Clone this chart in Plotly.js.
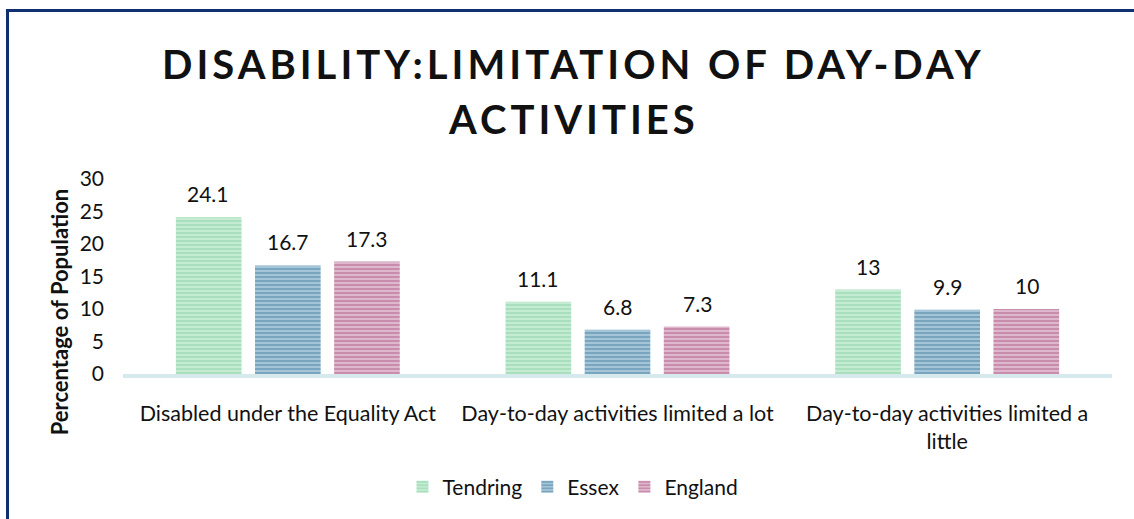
<!DOCTYPE html>
<html><head><meta charset="utf-8">
<script src="https://cdn.plot.ly/plotly-3.0.1.min.js"></script>
<style>
html,body{margin:0;padding:0;background:#fff;overflow:hidden;}
#frame{position:absolute;left:6px;top:9px;width:1300px;height:700px;border:3px solid #10306f;box-sizing:border-box;}
#chart{position:absolute;left:0;top:0;width:1134px;height:519px;}
.annotation[data-index="0"] text, .annotation[data-index="1"] text{letter-spacing:4px;}
</style></head>
<body>
<div id="frame"></div>
<div id="chart"></div>
<script>
const categories = ["Disabled under the Equality Act", "Day-to-day activities limited a lot", "Day-to-day activities limited a<br>little"];
const seriesNames = ["Tendring", "Essex", "England"];
const tendring = [24.1, 11.1, 13];
const essex = [16.7, 6.8, 9.9];
const england = [17.3, 7.3, 10];
const yTicks = [0, 5, 10, 15, 20, 25, 30];
const titleLines = ["DISABILITY:LIMITATION OF DAY-DAY", "ACTIVITIES"];
const yTitle = "Percentage of Population";

const values = [tendring, essex, england];
const fg = ["#8cd2a6", "#4a82a2", "#ae5d89"];
const bg = ["#c6edd5", "#a9c8da", "#e2bcd0"];
const font = "Lato, 'Open Sans', sans-serif";

const traces = values.map((v, i) => ({
  type: "bar", name: seriesNames[i], x: categories, y: v,
  marker: {color: bg[i], line: {width: 0}, pattern: {shape: "-", fgcolor: fg[i], bgcolor: bg[i], size: 4, solidity: 0.55, fillmode: "overlay"}},
  hoverinfo: "none"
}));

const annotations = [
  {text: "<b>" + titleLines[0] + "</b>", xref: "paper", yref: "paper", x: 0.456, y: 1.59, xanchor: "center", yanchor: "middle",
   showarrow: false, font: {family: font, size: 40, color: "#111"}},
  {text: "<b>" + titleLines[1] + "</b>", xref: "paper", yref: "paper", x: 0.456, y: 1.307, xanchor: "center", yanchor: "middle",
   showarrow: false, font: {family: font, size: 40, color: "#111"}},
  {text: "<b>" + yTitle + "</b>", xref: "paper", yref: "paper", x: -0.064, y: 0.32,
   xanchor: "center", yanchor: "middle", textangle: -90, showarrow: false, font: {family: font, size: 22, color: "#111"}}
];
const shifts = [-79.5, 0, 79.5];
values.forEach((v, i) => v.forEach((val, j) => annotations.push({
  x: categories[j], y: val, xref: "x", yref: "y", text: String(val), showarrow: false,
  xshift: shifts[i], yanchor: "bottom", yshift: 9, font: {family: font, size: 21, color: "#111"}
})));

const layout = {
  width: 1134, height: 519,
  paper_bgcolor: "rgba(0,0,0,0)", plot_bgcolor: "rgba(0,0,0,0)",
  margin: {l: 123, r: 22, t: 179, b: 145},
  barmode: "group", bargap: 0.28, bargroupgap: 0.17,
  xaxis: {showline: true, linecolor: "#d6eaee", linewidth: 4, ticks: "", showgrid: false, zeroline: false,
    tickfont: {family: font, size: 21.5, color: "#111"}, ticklabelstandoff: 17},
  yaxis: {range: [0, 30], tickvals: yTicks, showgrid: false, zeroline: false, showline: false, ticks: "",
    tickfont: {family: font, size: 21, color: "#111"}, ticklabelstandoff: 18},
  legend: {orientation: "h", x: 0.455, xanchor: "center", y: -0.58, yanchor: "middle",
    font: {family: font, size: 21, color: "#111"}, itemwidth: 30, traceorder: "normal"},
  annotations: annotations,
  showlegend: true
};
Plotly.newPlot("chart", traces, layout, {displayModeBar: false, staticPlot: true});
</script>
</body></html>
